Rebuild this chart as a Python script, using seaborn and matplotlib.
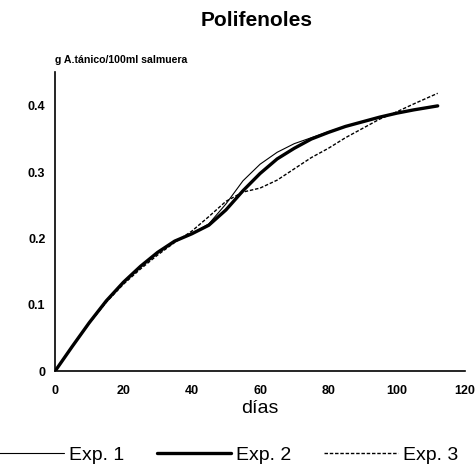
#!/usr/bin/env python3
"""Polifenoles en salmuera: tres experiencias."""

import matplotlib
matplotlib.use("Agg")
import matplotlib.pyplot as plt
import pandas as pd
import seaborn as sns

DAYS = [0, 5, 10, 15, 20, 25, 30, 35, 40, 45, 50, 55, 60, 65, 70, 75, 80,
        85, 90, 95, 100, 105, 112]
EXP1 = [0, 0.037, 0.073, 0.106, 0.134, 0.158, 0.179, 0.196, 0.207, 0.222,
        0.252, 0.287, 0.312, 0.330, 0.343, 0.352, 0.361, 0.369, 0.376,
        0.383, 0.389, 0.394, 0.400]
EXP2 = [0, 0.037, 0.073, 0.106, 0.134, 0.158, 0.179, 0.196, 0.207, 0.220,
        0.243, 0.272, 0.298, 0.320, 0.336, 0.350, 0.360, 0.369, 0.376,
        0.383, 0.389, 0.394, 0.400]
EXP3 = [0, 0.037, 0.072, 0.104, 0.131, 0.154, 0.175, 0.194, 0.211, 0.233,
        0.256, 0.270, 0.276, 0.288, 0.305, 0.322, 0.336, 0.352, 0.366,
        0.380, 0.391, 0.403, 0.419]
SERIES = ["Exp. 1", "Exp. 2", "Exp. 3"]
X_TICKS = [0, 20, 40, 60, 80, 100, 120]
Y_TICKS = [0, 0.1, 0.2, 0.3, 0.4]
Y_TICK_LABELS = ["0", "0.1", "0.2", "0.3", "0.4"]

sns.set_theme(style="white")
plt.rcParams["font.family"] = ["Liberation Sans", "DejaVu Sans"]
plt.rcParams["text.color"] = "black"
plt.rcParams["axes.labelcolor"] = "black"

df = pd.DataFrame({"dias": DAYS, "Exp. 1": EXP1, "Exp. 2": EXP2, "Exp. 3": EXP3})
styles = {
    "Exp. 1": dict(linewidth=0.8, linestyle="-"),
    "Exp. 2": dict(linewidth=2.4, linestyle="-"),
    "Exp. 3": dict(linewidth=1.0, linestyle=(0, (2.5, 1.3))),
}

fig = plt.figure(figsize=(4.75, 4.65), dpi=100)
ax = fig.add_axes([0.116, 0.202, 0.863, 0.643])

for name in SERIES:
    sns.lineplot(data=df, x="dias", y=name, ax=ax, color="black",
                 label=name, **styles[name])

ax.set_xlim(0, 120)
ax.set_ylim(0, 0.451)
ax.set_xticks(X_TICKS)
ax.set_xticklabels([str(t) for t in X_TICKS], fontsize=9, fontweight="bold")
ax.set_yticks(Y_TICKS)
ax.set_yticklabels(Y_TICK_LABELS, fontsize=9, fontweight="bold")
ax.tick_params(axis="x", direction="in", length=4, width=1, pad=10, colors="black")
ax.tick_params(axis="y", direction="out", length=4, width=1, pad=3, colors="black")
for side in ["top", "right"]:
    ax.spines[side].set_visible(False)
for side in ["left", "bottom"]:
    ax.spines[side].set_color("black")
    ax.spines[side].set_linewidth(1.2)

ax.set_xlabel("días", fontsize=14, labelpad=2)
ax.set_ylabel("")
ax.legend_.remove()

fig.text(0.116, 0.871, "g A.tánico/100ml salmuera", fontsize=7.6,
         fontweight="bold", ha="left", va="center")
fig.text(0.54, 0.955, "Polifenoles", fontsize=15, fontweight="bold",
         ha="center", va="center")

handles, labels = ax.get_legend_handles_labels()
fig.legend(handles, labels, loc="center", bbox_to_anchor=(0.472, 0.022),
           ncol=3, frameon=False, fontsize=14, handlelength=3.8,
           handletextpad=0.25, columnspacing=1.7, borderaxespad=0,
           borderpad=0)

fig.savefig("out.png", dpi=100)
